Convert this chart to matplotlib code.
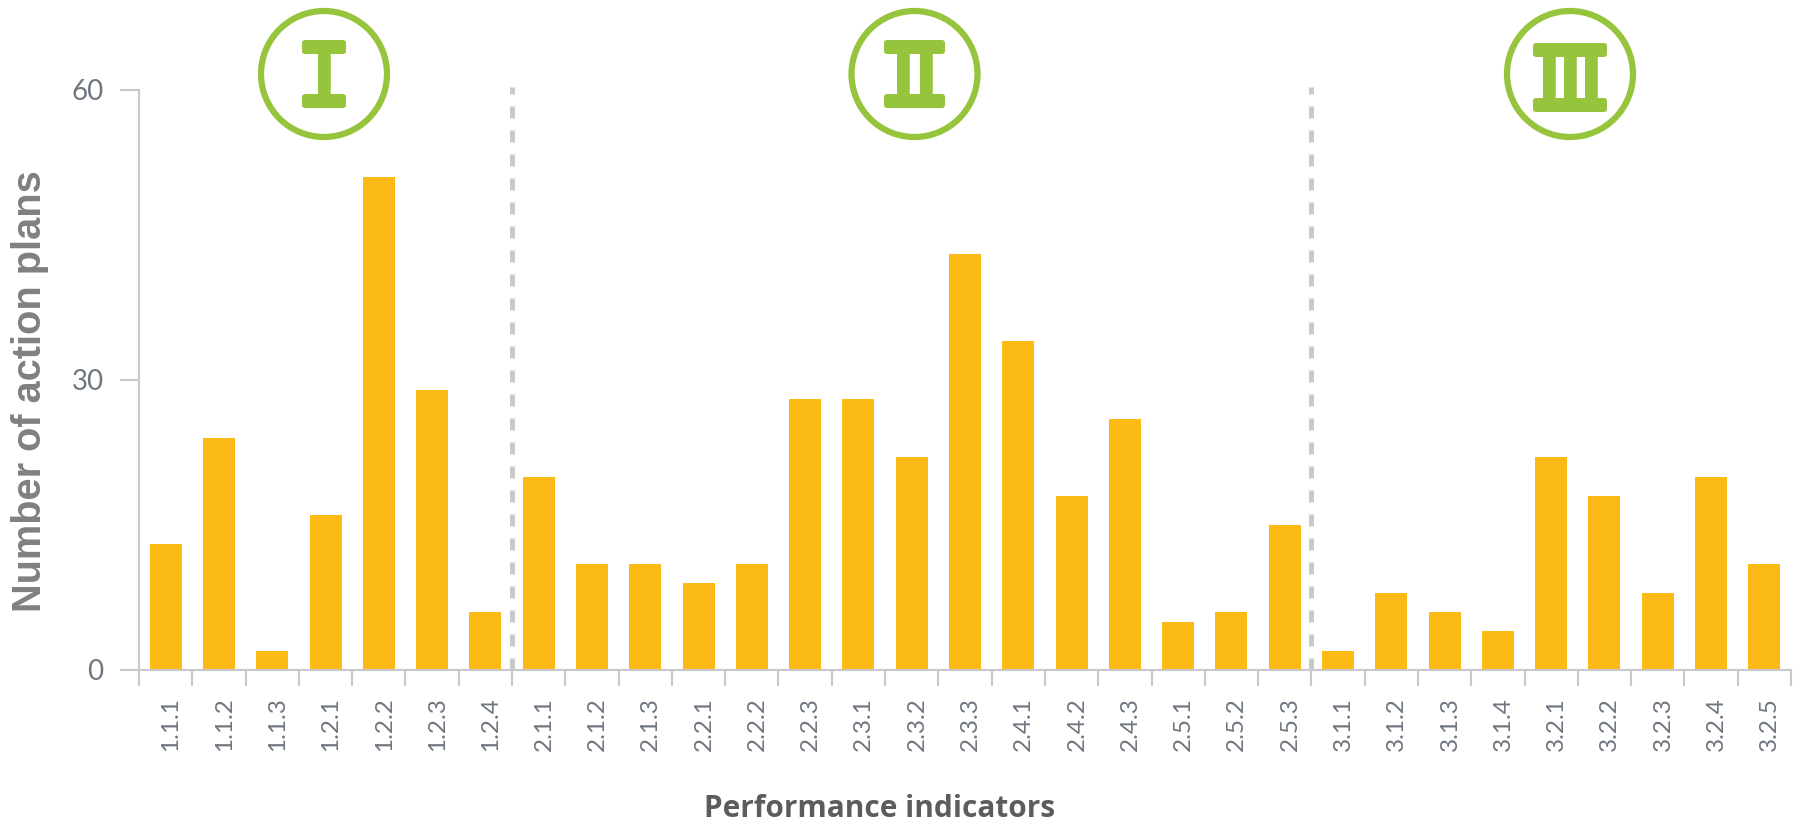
import matplotlib
matplotlib.use('Agg')
import matplotlib.pyplot as plt
from matplotlib.patches import Circle, FancyBboxPatch

# Data
indicators = ['1.1.1', '1.1.2', '1.1.3', '1.2.1', '1.2.2', '1.2.3', '1.2.4',
              '2.1.1', '2.1.2', '2.1.3', '2.2.1', '2.2.2', '2.2.3', '2.3.1', '2.3.2',
              '2.3.3', '2.4.1', '2.4.2', '2.4.3', '2.5.1', '2.5.2', '2.5.3',
              '3.1.1', '3.1.2', '3.1.3', '3.1.4', '3.2.1', '3.2.2', '3.2.3', '3.2.4', '3.2.5']
action_plans = [13, 24, 2, 16, 51, 29, 6,
                20, 11, 11, 9, 11, 28, 28, 22, 43, 34, 18, 26, 5, 6, 15,
                2, 8, 6, 4, 22, 18, 8, 20, 11]
y_ticks = [0, 30, 60]
section_breaks = [7, 22]

GREY = '#c9c9c9'
GREEN = '#96c43c'
W, H = 1800, 827

fig = plt.figure(figsize=(W / 100, H / 100), dpi=100)
ax = fig.add_axes([139 / W, 1 - 670 / H, (1791 - 139) / W, (670 - 90) / H])

x = [i + 0.5 for i in range(len(indicators))]
ax.bar(x, action_plans, width=0.6, color='#fbba16', zorder=2)
for b in section_breaks:
    ax.plot([b, b], [0, 60.3], color=GREY, lw=3.6, dashes=(2.4, 2.4), clip_on=False, zorder=1)

ax.set_xlim(0, len(indicators))
ax.set_ylim(0, 60)
ax.spines['top'].set_visible(False)
ax.spines['right'].set_visible(False)
ax.spines['left'].set_color(GREY)
ax.spines['bottom'].set_color(GREY)
ax.spines['left'].set_linewidth(1.5)
ax.spines['bottom'].set_linewidth(1.5)

# ticks sit between the bars, the labels are on minor ticks
ax.set_xticks(range(len(indicators) + 1))
ax.set_xticklabels([])
ax.set_xticks([i + 0.6 for i in range(len(indicators))], minor=True)
ax.set_xticklabels(indicators, minor=True, rotation=90, fontsize=17.5, family='Lato',
                   color='#6f7680', va='bottom', ha='center')
ax.tick_params(axis='x', which='major', length=11.5, width=1.5, color=GREY)
ax.tick_params(axis='x', which='minor', length=0, pad=58)
ax.set_yticks(y_ticks)
ax.set_yticklabels([str(v) for v in y_ticks], fontsize=20, family='Lato', color='#6f7680')
ax.tick_params(axis='y', length=13.5, width=1.5, color=GREY, pad=12)

fig.text(30 / W, 1 - 391 / H, 'Number of action plans', rotation=90, ha='center', va='center',
         fontsize=28.6, fontweight='bold', family='Liberation Sans', color='#808080')
fig.text(880 / W, 1 - 809 / H, 'Performance indicators', ha='center', va='center',
         fontsize=21.4, fontweight='bold', family='Open Sans', color='#5c5c5c')

# Section badges, drawn in pixel coordinates on top of everything
overlay = fig.add_axes([0, 0, 1, 1], facecolor='none')
overlay.set_xlim(0, W)
overlay.set_ylim(H, 0)
overlay.axis('off')

badges = [(324, 74, [324], 302, 346, 40, 108),
          (914.5, 74, [903, 926.5], 884, 945, 40, 108),
          (1570, 74, [1549.5, 1570.5, 1591], 1533, 1607, 43, 112)]

for cx, cy, stems, left, right, top, bottom in badges:
    overlay.add_patch(Circle((cx, cy), 63, fill=False, ec=GREEN, lw=4.5))
    for stem in stems:
        overlay.text(stem, bottom - 2, 'I', ha='center', va='baseline', fontsize=64,
                     fontweight='bold', family='Liberation Sans', color=GREEN)
    for bar_top in (top, bottom - 14):
        overlay.add_patch(FancyBboxPatch((left + 3, bar_top + 3), right - left - 6, 8,
                                         boxstyle='round,pad=3', fc=GREEN, ec='none'))

fig.savefig('out.png', dpi=100)
